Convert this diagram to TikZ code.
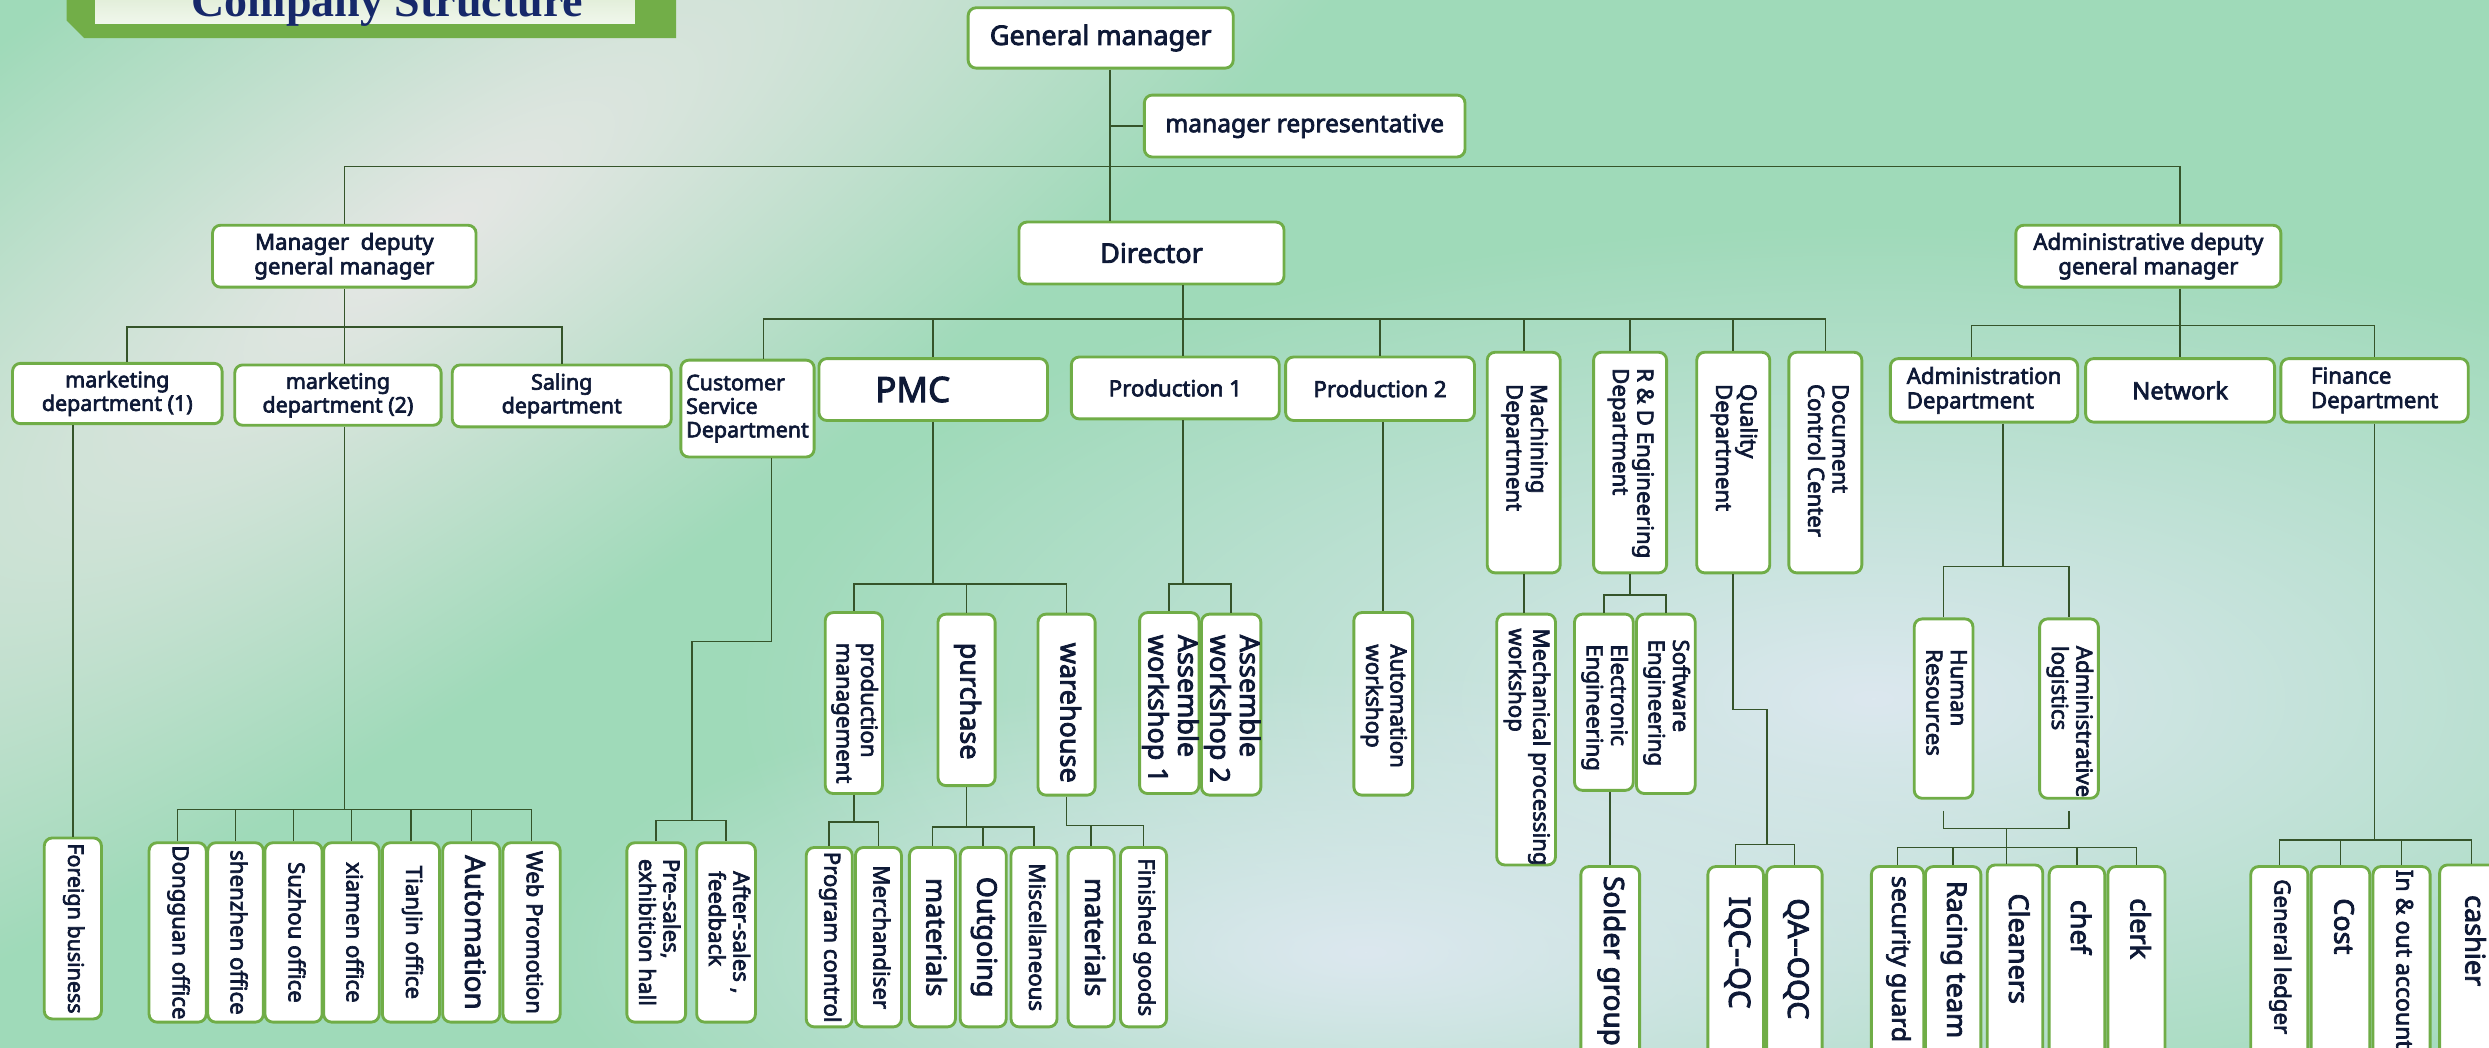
\documentclass[tikz,border=0pt]{standalone}
\usepackage{fontspec}
\setmainfont{Noto Sans}[FakeBold=3]
\newfontfamily\titlefont{Liberation Serif}
\usepackage{graphicx}
\usetikzlibrary{calc, fadings}

\definecolor{boxgreen}{HTML}{70AD47}
\definecolor{linegreen}{HTML}{35542A}
\definecolor{txtnavy}{HTML}{0E1936}
\definecolor{titlenavy}{HTML}{16286A}
\definecolor{framegreen}{HTML}{72AE48}
\definecolor{bggreen}{HTML}{9FDAB9}
\definecolor{streak}{HTML}{E6E7E5}
\definecolor{haze}{HTML}{DCE8EF}

\tikzfading[name=softblob, inner color=transparent!0, outer color=transparent!100]

% font size with a tight line spacing
\newcommand{\fsz}[1]{\fontsize{#1}{\dimexpr #1*11/10\relax}\selectfont}
% rotated label, centred along the box
\newcommand{\rotc}[2]{\rotatebox{-90}{\makebox[#1][c]{\begin{tabular}{@{}l@{}}#2\end{tabular}}}}
% rotated label, starting at a given gap from the top
\newcommand{\rott}[3]{\rotatebox{-90}{\makebox[#1][l]{\hspace*{#2}\begin{tabular}{@{}l@{}}#3\end{tabular}}}}

\begin{document}
\begin{tikzpicture}[
    x=1pt, y=-1pt,
    unit/.style={draw=boxgreen, line width=1.8pt, fill=white, rounded corners=5pt,
      text=txtnavy, anchor=north west, inner sep=2pt},
    hunit/.style={unit, align=center},
    vunit/.style={unit, inner sep=0pt},
    link/.style={draw=linegreen, line width=1pt}
  ]

  % --- Background ---
  \useasboundingbox (0,0) rectangle (1568,660);
  \fill[bggreen] (0,0) rectangle (1568,660);
  \begin{scope}[transform canvas={rotate around={35:(270,150)}}]
    \fill[streak, path fading=softblob] (270,150) ellipse [x radius=900pt, y radius=260pt];
  \end{scope}
  \fill[haze, path fading=softblob] (1180,440) ellipse [x radius=720pt, y radius=300pt];
  \fill[haze, path fading=softblob] (860,600) ellipse [x radius=520pt, y radius=180pt];

  % --- Title plate ---
  \fill[framegreen] (42,0) -- (42,13) -- (53,24) -- (426,24) -- (426,0) -- cycle;
  \shade[top color=white!80!framegreen, bottom color=white!90!framegreen] (60,0) rectangle (400,15);
  \node[font=\titlefont\bfseries\fontsize{29pt}{30pt}\selectfont, text=titlenavy, anchor=base] (title) at (244,10.5) {Company Structure};

  % --- Top level ---
  \node[hunit, minimum width=167pt, minimum height=38pt, font=\fsz{17pt}] (gm) at (609,4) {General manager};
  \node[hunit, minimum width=202pt, minimum height=39pt, font=\fsz{15.5pt}] (mrep) at (720,59) {manager representative};
  \node[hunit, minimum width=166pt, minimum height=39pt, font=\fsz{14pt}] (mdgm) at (133,141) {Manager~ deputy\\general manager};
  \node[hunit, minimum width=167pt, minimum height=39pt, font=\fsz{17pt}] (dir) at (641,139) {Director};
  \node[hunit, minimum width=167pt, minimum height=39pt, font=\fsz{14pt}] (adgm) at (1269,141) {Administrative deputy\\general manager};

  % --- Departments ---
  \node[hunit, minimum width=132pt, minimum height=38pt, font=\fsz{13.5pt}] (mkt1) at (7,228) {marketing\\department (1)};
  \node[hunit, minimum width=130pt, minimum height=38pt, font=\fsz{13.5pt}] (mkt2) at (147,229) {marketing\\department (2)};
  \node[hunit, minimum width=138pt, minimum height=39pt, font=\fsz{13.5pt}] (sal) at (284,229) {Saling\\department};
  \node[unit, align=left, minimum width=84pt, minimum height=61pt, font=\fsz{13.5pt}] (csd) at (428,226) {Customer\\Service\\Department};
  \node[unit, align=left, text width=73pt, minimum width=144pt, minimum height=39pt, font=\fsz{22pt}] (pmc) at (515,225) {PMC};
  \node[hunit, minimum width=131pt, minimum height=39pt, font=\fsz{14pt}] (pro1) at (674,224) {Production 1};
  \node[hunit, minimum width=119pt, minimum height=40pt, font=\fsz{14pt}] (pro2) at (809,224) {Production 2};
  \node[vunit, minimum width=46pt, font=\fsz{14pt}] (mach) at (936,221) {\rott{139pt}{20pt}{Machining\\Department}};
  \node[vunit, minimum width=46pt, font=\fsz{14pt}] (rnd) at (1003,221) {\rott{139pt}{10pt}{R \& D Engineering\\Department}};
  \node[vunit, minimum width=46pt, font=\fsz{14pt}] (qual) at (1068,221) {\rott{139pt}{20pt}{Quality\\Department}};
  \node[vunit, minimum width=46pt, font=\fsz{14pt}] (doc) at (1126,221) {\rott{139pt}{20pt}{Document\\Control Center}};
  \node[unit, align=left, minimum width=118pt, minimum height=40pt, font=\fsz{14pt}] (adm) at (1190,225) {Administration\\Department};
  \node[hunit, minimum width=119pt, minimum height=40pt, font=\fsz{15pt}] (net) at (1313,225) {Network};
  \node[unit, align=left, minimum width=118pt, minimum height=40pt, font=\fsz{14pt}] (fin) at (1436,225) {Finance\\Department};

  % --- Sections ---
  \node[vunit, minimum width=36pt, font=\fsz{14pt}] (prodm) at (519,385) {\rott{114pt}{19pt}{production\\management}};
  \node[vunit, minimum width=36pt, font=\fsz{17pt}] (purch) at (590,386) {\rott{108pt}{18pt}{purchase}};
  \node[vunit, minimum width=36pt, font=\fsz{17pt}] (wareh) at (653,386) {\rott{114pt}{18pt}{warehouse}};
  \node[vunit, minimum width=36pt, font=\fsz{17pt}] (asm1) at (717,385) {\rott{114pt}{14pt}{Assemble\\workshop 1}};
  \node[vunit, minimum width=36pt, font=\fsz{17pt}] (asm2) at (756,386) {\rott{114pt}{13pt}{Assemble\\workshop 2}};
  \node[vunit, minimum width=37pt, font=\fsz{14pt}] (autows) at (852,385) {\rott{115pt}{20pt}{Automation\\workshop}};
  \node[vunit, minimum width=37pt, font=\fsz{14pt}] (mechws) at (942,386) {\rott{158pt}{9pt}{Mechanical processing\\workshop}};
  \node[vunit, minimum width=37pt, font=\fsz{14pt}] (elec) at (991,386) {\rott{111pt}{19pt}{Electronic\\Engineering}};
  \node[vunit, minimum width=37pt, font=\fsz{14pt}] (soft) at (1030,386) {\rott{113pt}{16pt}{Software\\Engineering}};
  \node[vunit, minimum width=37pt, font=\fsz{14pt}] (hr) at (1205,389) {\rott{113pt}{19pt}{Human\\Resources}};
  \node[vunit, minimum width=37pt, font=\fsz{14pt}] (alog) at (1284,389) {\rott{113pt}{17pt}{Administrative\\logistics}};

  % --- Bottom row ---
  \node[vunit, minimum width=36pt, font=\fsz{13.5pt}] (fb) at (27,527) {\rotc{114pt}{Foreign business}};
  \node[vunit, minimum width=36pt, font=\fsz{14pt}] (dg) at (93,530) {\rotc{113pt}{Dongguan office}};
  \node[vunit, minimum width=35pt, font=\fsz{14pt}] (sz) at (130,530) {\rotc{113pt}{shenzhen office}};
  \node[vunit, minimum width=36pt, font=\fsz{14pt}] (su) at (166,530) {\rotc{113pt}{Suzhou office}};
  \node[vunit, minimum width=35pt, font=\fsz{14pt}] (xm) at (203,530) {\rotc{113pt}{xiamen office}};
  \node[vunit, minimum width=36pt, font=\fsz{14pt}] (tj) at (240,530) {\rotc{113pt}{TianJin office}};
  \node[vunit, minimum width=36pt, font=\fsz{17.5pt}] (au) at (278,530) {\rotc{113pt}{Automation}};
  \node[vunit, minimum width=36pt, font=\fsz{14pt}] (wp) at (316,530) {\rotc{113pt}{Web Promotion}};
  \node[vunit, minimum width=37pt, font=\fsz{14pt}] (pre) at (394,530) {\rotc{113pt}{Pre-sales,\\exhibition hall}};
  \node[vunit, minimum width=37pt, font=\fsz{14pt}] (aft) at (438,530) {\rotc{113pt}{After-sales ,\\feedback}};
  \node[vunit, minimum width=29pt, font=\fsz{14pt}] (pc) at (507,533) {\rotc{113pt}{Program control}};
  \node[vunit, minimum width=29pt, font=\fsz{14pt}] (mer) at (538,533) {\rotc{113pt}{Merchandiser}};
  \node[vunit, minimum width=29pt, font=\fsz{17pt}] (mat1) at (572,533) {\rotc{113pt}{materials}};
  \node[vunit, minimum width=29pt, font=\fsz{17pt}] (out) at (604,533) {\rotc{113pt}{Outgoing}};
  \node[vunit, minimum width=29pt, font=\fsz{14pt}] (misc) at (636,533) {\rotc{113pt}{Miscellaneous}};
  \node[vunit, minimum width=29pt, font=\fsz{17pt}] (mat2) at (672,533) {\rotc{113pt}{materials}};
  \node[vunit, minimum width=29pt, font=\fsz{14pt}] (fg) at (705,533) {\rotc{113pt}{Finished goods}};
  \node[vunit, minimum width=37pt, font=\fsz{17.5pt}] (sold) at (995,545) {\rott{125pt}{6pt}{Solder group}};
  \node[vunit, minimum width=35pt, font=\fsz{18.5pt}] (iqc) at (1075,545) {\rott{125pt}{19pt}{IQC-\kern0pt-QC}};
  \node[vunit, minimum width=35pt, font=\fsz{18pt}] (qa) at (1112,545) {\rott{125pt}{20pt}{QA-\kern0pt-OQC}};
  \node[vunit, minimum width=33pt, font=\fsz{15.5pt}] (sec) at (1178,545) {\rott{125pt}{6pt}{security guard}};
  \node[vunit, minimum width=35pt, font=\fsz{17pt}] (race) at (1212,545) {\rott{125pt}{9pt}{Racing team}};
  \node[vunit, minimum width=35pt, font=\fsz{17pt}] (clean) at (1251,544) {\rott{126pt}{18pt}{Cleaners}};
  \node[vunit, minimum width=35pt, font=\fsz{17pt}] (chef) at (1290,545) {\rott{125pt}{21pt}{chef}};
  \node[vunit, minimum width=36pt, font=\fsz{17pt}] (clerk) at (1327,545) {\rott{125pt}{20pt}{clerk}};
  \node[vunit, minimum width=36pt, font=\fsz{14pt}] (gl) at (1417,545) {\rott{125pt}{8pt}{General ledger}};
  \node[vunit, minimum width=37pt, font=\fsz{17pt}] (cost) at (1455,545) {\rott{125pt}{20pt}{Cost}};
  \node[vunit, minimum width=36pt, font=\fsz{14.5pt}] (inout) at (1494,545) {\rott{125pt}{2pt}{In \& out account}};
  \node[vunit, minimum width=40pt, font=\fsz{17pt}] (cash) at (1536,544) {\rott{126pt}{19pt}{cashier}};

  % --- Bus levels ---
  \coordinate (topbus) at (0,105);
  \coordinate (mdbus) at (0,206);
  \coordinate (dirbus) at (0,201);
  \coordinate (adbus) at (0,205);
  \coordinate (offbus) at (0,510);
  \coordinate (csbend) at (436,404);
  \coordinate (csbus) at (0,517);
  \coordinate (pmcbus) at (0,368);
  \coordinate (pmbus) at (0,518);
  \coordinate (pubus) at (0,521);
  \coordinate (whbus) at (0,520);
  \coordinate (asmbus) at (0,368);
  \coordinate (rndbus) at (0,375);
  \coordinate (qbend) at (1113,447);
  \coordinate (qbus) at (0,532);
  \coordinate (admbus) at (0,357);
  \coordinate (svcjoin) at (1264,522);
  \coordinate (svcbus) at (0,534);
  \coordinate (finbus) at (0,529);

  % --- Connectors: top ---
  \draw[link] ([xshift=6pt]gm.south) -- ([xshift=6pt]gm.south |- dir.north);
  \draw[link] ([xshift=6pt]gm.south |- mrep.west) -- (mrep.west);
  \draw[link] (mdgm.north) |- (net.north |- topbus) -- (net.north |- adgm.north);

  % manager deputy
  \draw[link] (mdgm.south) -- (mdgm.south |- mkt2.north);
  \draw[link] ([xshift=6pt]mkt1.north) |- (mdgm.south |- mdbus) -| (sal.north);
  \draw[link] (fb.north) -- (fb.north |- mkt1.south);
  \draw[link] ([xshift=4pt]mkt2.south) -- ([xshift=4pt]mkt2.south |- offbus);
  \draw[link] (dg.north) |- (wp.north |- offbus) -- (wp.north);
  \foreach \n in {sz, su, xm, tj, au}
    \draw[link] (\n.north) -- (\n.north |- offbus);

  % director
  \draw[link] ([xshift=5pt]pro1.north |- dir.south) -- ([xshift=5pt]pro1.north);
  \draw[link] ([xshift=10pt]csd.north) |- (pro1.north |- dirbus) -| (doc.north);
  \foreach \n in {pmc, pro2, mach, rnd, qual}
    \draw[link] (\n.north) -- (\n.north |- dirbus);
  \draw[link] ([xshift=15pt]csd.south) |- (csbend) -- (csbend |- csbus);
  \draw[link] (pre.north) |- (aft.north |- csbus) -- (aft.north);
  \draw[link] (pmc.south) -- (pmc.south |- pmcbus);
  \draw[link] (prodm.north) |- (wareh.north |- pmcbus) -- (wareh.north);
  \draw[link] (purch.north) -- (purch.north |- pmcbus);
  \draw[link] (prodm.south) -- (prodm.south |- pmbus);
  \draw[link] (pc.north) |- (mer.north |- pmbus) -- (mer.north);
  \draw[link] (purch.south) -- (purch.south |- pubus);
  \draw[link] (mat1.north) |- (misc.north |- pubus) -- (misc.north);
  \draw[link] (out.north) -- (out.north |- pubus);
  \draw[link] (wareh.south) |- (fg.north |- whbus) -- (fg.north);
  \draw[link] (mat2.north) -- (mat2.north |- whbus);
  \draw[link] ([xshift=5pt]pro1.south) -- ([xshift=5pt]pro1.south |- asmbus);
  \draw[link] (asm1.north) |- (asm2.north |- asmbus) -- (asm2.north);
  \draw[link] (autows.north) -- (autows.north |- pro2.south);
  \draw[link] (mach.south) -- (mach.south |- mechws.north);
  \draw[link] (rnd.south) -- (rnd.south |- rndbus);
  \draw[link] (elec.north) |- (soft.north |- rndbus) -- (soft.north);
  \draw[link] (sold.north) -- (sold.north |- elec.south);
  \draw[link] (qual.south) |- (qbend) -- (qbend |- qbus);
  \draw[link] (iqc.north) |- (qa.north |- qbus) -- (qa.north);

  % administrative deputy
  \draw[link] (net.north |- adgm.south) -- (net.north);
  \draw[link] ([xshift=-8pt]adm.north) |- (net.north |- adbus) -| (fin.north);
  \draw[link] ([xshift=12pt]adm.south) -- ([xshift=12pt]adm.south |- admbus);
  \draw[link] (hr.north) |- (alog.north |- admbus) -- (alog.north);
  \draw[link] ([yshift=-7pt]hr.south) |- (svcjoin) -| ([yshift=-7pt]alog.south);
  \draw[link] (svcjoin) -- (svcjoin |- clean.north);
  \draw[link] (sec.north) |- (clerk.north |- svcbus) -- (clerk.north);
  \foreach \n in {race, chef}
    \draw[link] (\n.north) -- (\n.north |- svcbus);
  \draw[link] (fin.south) -- (fin.south |- finbus);
  \draw[link] (gl.north) |- (cash.north |- finbus) -- (cash.north);
  \foreach \n in {cost, inout}
    \draw[link] (\n.north) -- (\n.north |- finbus);

\end{tikzpicture}
\end{document}
